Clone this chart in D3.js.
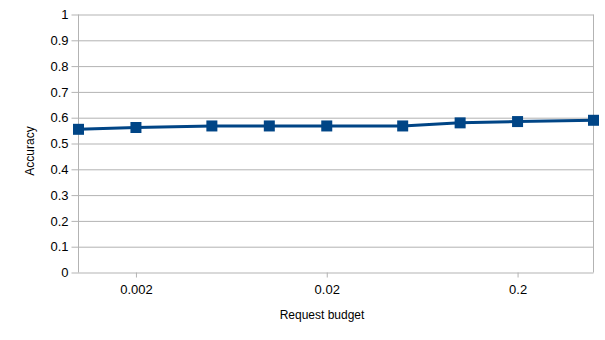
<!DOCTYPE html>
<html><head><meta charset="utf-8">
<script src="https://cdn.jsdelivr.net/npm/d3@7"></script>
<style>
html,body{margin:0;padding:0;background:#fff;}
svg{display:block;font-family:"Liberation Sans",Arial,sans-serif;}
</style></head>
<body><svg id="c" width="605" height="340"></svg>
<script>
const budgets = [0.001, 0.002, 0.005, 0.01, 0.02, 0.05, 0.1, 0.2, 0.5];
const accuracy = [0.555, 0.562, 0.568, 0.568, 0.568, 0.568, 0.580, 0.585, 0.590];
const xTicks = [0.002, 0.02, 0.2];
const xTickLabels = ["0.002", "0.02", "0.2"];
const yTicks = [0, 0.1, 0.2, 0.3, 0.4, 0.5, 0.6, 0.7, 0.8, 0.9, 1];
const yTickLabels = ["0", "0.1", "0.2", "0.3", "0.4", "0.5", "0.6", "0.7", "0.8", "0.9", "1"];
const xTitle = "Request budget";
const yTitle = "Accuracy";

const svg = d3.select("#c");
const L = 78.5, R = 593.5, T = 14.5, B = 272.5;
const x = d3.scaleLog().domain([0.001, 0.5]).range([L, R]);
const y = d3.scaleLinear().domain([0, 1]).range([B, T]);
const grid = "#b3b3b3";

// horizontal gridlines with left ticks
const yAxis = d3.axisLeft(y).tickValues(yTicks).tickSize(-(R - L)).tickPadding(10)
  .tickFormat((d, i) => yTickLabels[i]);
const gy = svg.append("g").attr("transform", `translate(${L},0)`).call(yAxis);
gy.select(".domain").remove();
gy.selectAll(".tick line").attr("stroke", grid).attr("x1", -7);
gy.selectAll(".tick text").attr("font-size", 13).attr("fill", "#000").attr("dx", 0);

// left and right vertical lines
svg.append("line").attr("x1", L).attr("x2", L).attr("y1", T).attr("y2", B).attr("stroke", grid);
svg.append("line").attr("x1", R).attr("x2", R).attr("y1", T).attr("y2", B).attr("stroke", grid);

// x axis
const xAxis = d3.axisBottom(x).tickValues(xTicks).tickSize(5).tickPadding(7)
  .tickFormat((d, i) => xTickLabels[i]);
const gx = svg.append("g").attr("transform", `translate(0,${B})`).call(xAxis);
gx.select(".domain").remove();
gx.selectAll(".tick line").attr("stroke", grid);
gx.selectAll(".tick text").attr("font-size", 13).attr("fill", "#000");

// titles
svg.append("text").attr("x", 322).attr("y", 319).attr("text-anchor", "middle")
  .attr("font-size", 12).attr("fill", "#000").text(xTitle);
svg.append("text").attr("transform", "translate(34,151) rotate(-90)").attr("text-anchor", "middle")
  .attr("font-size", 12).attr("fill", "#000").text(yTitle);

// series
const pts = budgets.map((b, i) => [b, accuracy[i]]);
const color = "#004586";
svg.append("path").datum(pts)
  .attr("d", d3.line().x(d => x(d[0])).y(d => y(d[1])))
  .attr("fill", "none").attr("stroke", color).attr("stroke-width", 3).attr("stroke-linejoin", "round");
const s = 11;
svg.selectAll("rect.m").data(pts).join("rect").attr("class", "m")
  .attr("x", d => x(d[0]) - s / 2).attr("y", d => y(d[1]) - s / 2)
  .attr("width", s).attr("height", s).attr("fill", color);
</script></body></html>
